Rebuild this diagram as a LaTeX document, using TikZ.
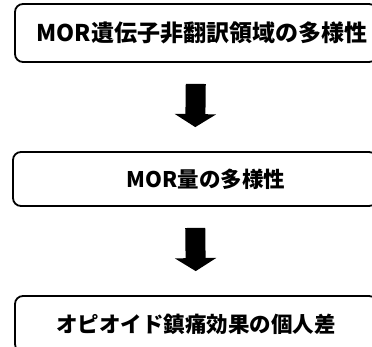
\documentclass[tikz,border=0pt]{standalone}
\usepackage{fontspec}
\newfontfamily\jafont{Noto Sans CJK JP}
\usetikzlibrary{positioning}
\usetikzlibrary{arrows.meta}
\tikzset{
    stepbox/.style = {rectangle, rounded corners=8pt, line width=1.8pt, draw=black, minimum width=362pt, minimum height=56pt, align=center, font=\jafont\bfseries\fontsize{21.5}{24}\selectfont},
    bigarrow/.style = {-{Triangle[length=13pt,width=41pt]}, line width=20pt, black, shorten <=21pt, shorten >=24pt},
}
\begin{document}
\begin{tikzpicture}[x=1pt,y=-1pt]
\useasboundingbox (0,0) rectangle (372,346);
\clip (0,0) rectangle (372,346);
%
\node[stepbox, minimum height=58pt, font=\jafont\bfseries\fontsize{23}{26}\selectfont] at (196,33) (gene) {\hspace*{12pt}MOR遺伝子非翻訳領域の多様性};
\node[stepbox, minimum height=54pt, minimum width=364pt] at (195,179) (amount) {\hspace*{22pt}MOR量の多様性};
\node[stepbox, minimum height=56pt] at (196,324) (effect) {オピオイド鎮痛効果の個人差};
%
\draw[bigarrow] (gene.south) -- (amount.north);
\draw[bigarrow] (amount.south) -- (effect.north);

\end{tikzpicture}
\end{document}
